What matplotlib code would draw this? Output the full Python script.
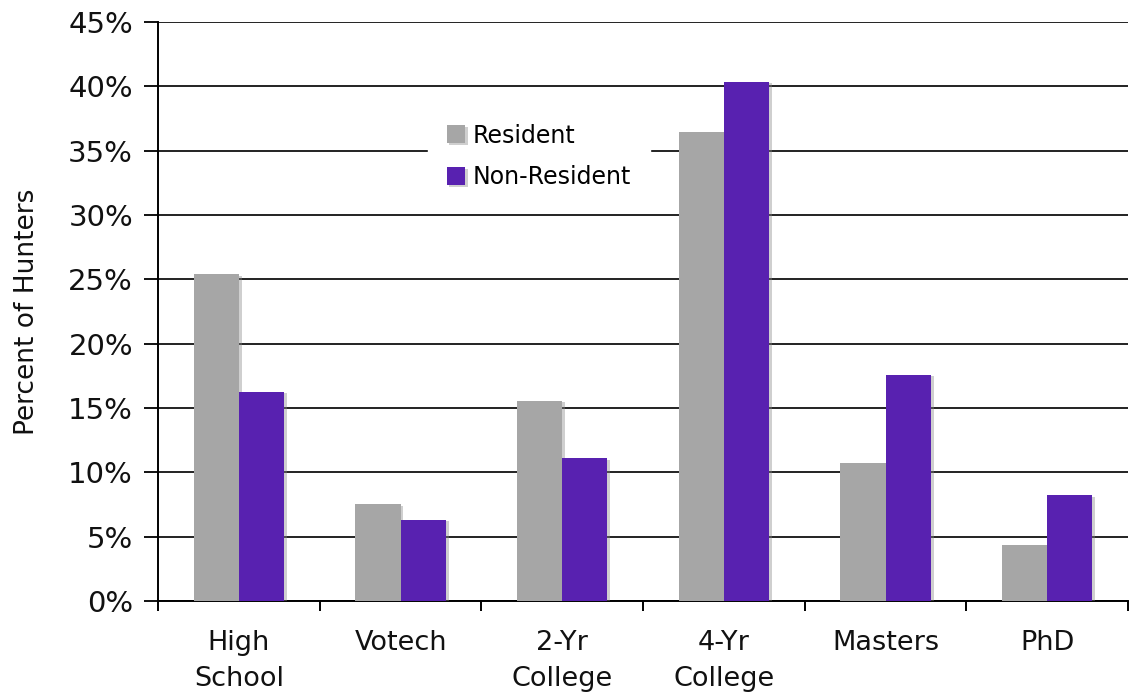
import numpy as np
import matplotlib
matplotlib.use("Agg")
import matplotlib.pyplot as plt
import matplotlib.patheffects as pe
from matplotlib.ticker import FuncFormatter, FixedLocator

categories = ["High\nSchool", "Votech", "2-Yr\nCollege", "4-Yr\nCollege", "Masters", "PhD"]
resident = [25.4, 7.5, 15.55, 36.45, 10.75, 4.35]
non_resident = [16.25, 6.3, 11.1, 40.35, 17.6, 8.2]

GRAY = "#a6a6a6"
PURPLE = "#5821b0"

fig = plt.figure(figsize=(11.33, 6.98), dpi=100)
ax = fig.add_axes([0.1395, 0.139, 0.8561, 0.8295])

x = np.arange(len(categories))
w = 0.28
shadow = [pe.SimplePatchShadow(offset=(2, -1), shadow_rgbFace="#888888", alpha=0.4), pe.Normal()]
ax.bar(x - w / 2, resident, w, color=GRAY, label="Resident", zorder=3, path_effects=shadow)
ax.bar(x + w / 2, non_resident, w, color=PURPLE, label="Non-Resident", zorder=3, path_effects=shadow)

ax.set_xlim(-0.5, len(categories) - 0.5)
ax.set_ylim(0, 45)
ax.set_yticks(np.arange(0, 46, 5))
ax.yaxis.set_major_formatter(FuncFormatter(lambda v, p: f"{v:.0f}%"))
ax.yaxis.grid(True, color="#222222", linewidth=1.4, zorder=0)
ax.set_axisbelow(True)

# category labels between ticks; ticks at boundaries
ax.xaxis.set_major_locator(FixedLocator(np.arange(-0.5, len(categories), 1)))
ax.set_xticklabels([])
for i, c in enumerate(categories):
    ax.text(i, -2.25, c, ha="center", va="top", fontsize=19.5, linespacing=1.5,
            color="#111111")

for s in ["top", "right"]:
    ax.spines[s].set_visible(False)
ax.spines["left"].set_linewidth(1.4)
ax.spines["bottom"].set_linewidth(1.4)
ax.tick_params(axis="y", length=10, width=1.4, labelsize=21, pad=8, colors="#111111")
ax.tick_params(axis="x", length=7, width=1.4)

ax.set_ylabel("Percent of Hunters", fontsize=19, labelpad=20, color="#111111")

leg = ax.legend(loc="upper left", bbox_to_anchor=(0.278, 0.857), frameon=True, fontsize=17,
                handlelength=0.8, handleheight=0.8, handletextpad=0.3, labelspacing=0.75,
                borderpad=0.8, borderaxespad=0)
leg.get_frame().set_facecolor("white")
leg.get_frame().set_edgecolor("white")
leg.get_frame().set_alpha(1)
leg.set_zorder(5)

fig.savefig("out.png", dpi=100)
